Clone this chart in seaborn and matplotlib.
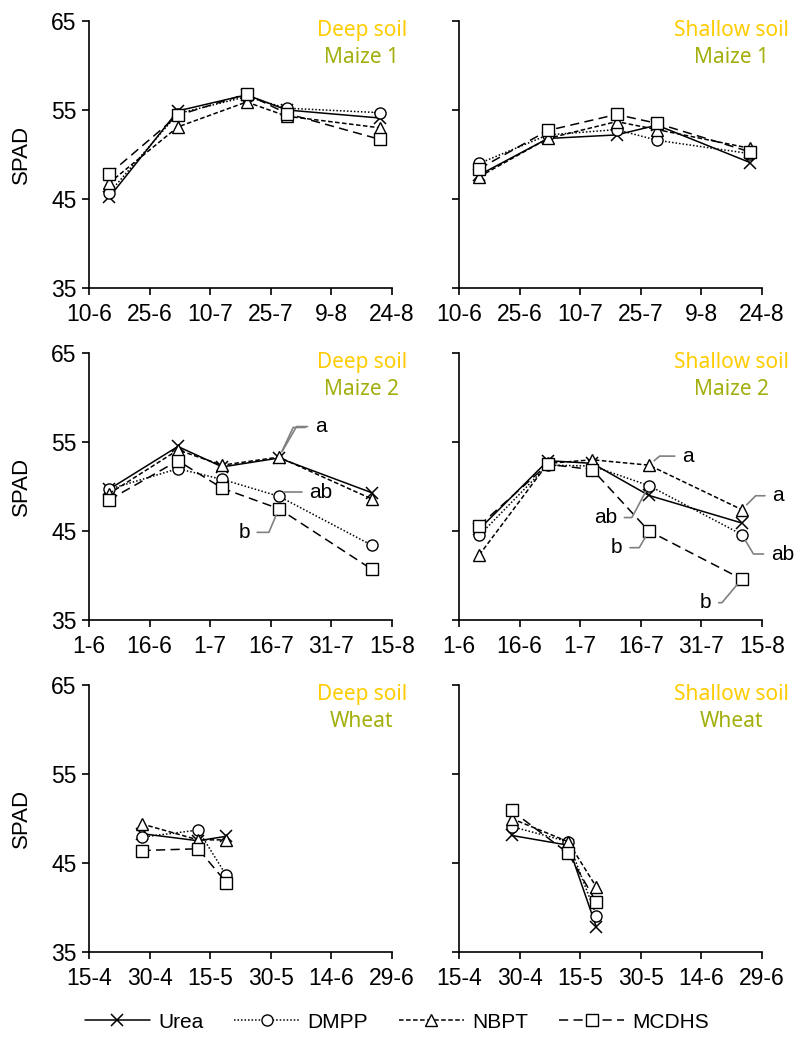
import matplotlib
matplotlib.use("Agg")
import matplotlib.pyplot as plt
import seaborn as sns
import pandas as pd
import numpy as np

sns.set_theme(style="ticks")
plt.rcParams['font.family'] = ['Liberation Sans', 'DejaVu Sans']
plt.rcParams['text.color'] = 'black'
plt.rcParams['axes.labelcolor'] = 'black'

# ---------------- data ----------------
treatments = ["Urea", "DMPP", "NBPT", "MCDHS"]

maize1_dates = ["2017-06-15", "2017-07-02", "2017-07-19", "2017-07-29", "2017-08-21"]
maize1_deep = {
    "Urea":  [45.2, 54.9, 56.7, 55.0, 54.1],
    "DMPP":  [45.7, 54.6, 56.5, 55.2, 54.7],
    "NBPT":  [46.8, 53.1, 55.9, 54.3, 53.0],
    "MCDHS": [47.8, 54.4, 56.8, 54.6, 51.7],
}
maize1_shallow = {
    "Urea":  [47.7, 51.8, 52.2, 53.3, 49.1],
    "DMPP":  [49.0, 52.2, 52.8, 51.6, 50.1],
    "NBPT":  [47.5, 51.8, 53.7, 52.8, 50.7],
    "MCDHS": [48.4, 52.7, 54.5, 53.5, 50.3],
}

maize2_dates = ["2018-06-06", "2018-06-23", "2018-07-04", "2018-07-18", "2018-08-10"]
maize2_deep = {
    "Urea":  [49.7, 54.5, 52.2, 53.2, 49.3],
    "DMPP":  [49.7, 52.0, 50.8, 48.9, 43.4],
    "NBPT":  [49.2, 54.1, 52.4, 53.3, 48.6],
    "MCDHS": [48.5, 52.9, 49.8, 47.5, 40.7],
}
maize2_shallow = {
    "Urea":  [45.2, 52.9, 52.6, 49.0, 45.9],
    "DMPP":  [44.5, 52.4, 52.3, 50.1, 44.6],
    "NBPT":  [42.3, 52.6, 53.0, 52.4, 47.4],
    "MCDHS": [45.6, 52.5, 51.9, 45.0, 39.6],
}

wheat_dates = ["2018-04-28", "2018-05-12", "2018-05-19"]
wheat_deep = {
    "Urea":  [48.3, 47.5, 48.0],
    "DMPP":  [47.9, 48.7, 43.6],
    "NBPT":  [49.4, 47.6, 47.6],
    "MCDHS": [46.4, 46.6, 42.8],
}
wheat_shallow = {
    "Urea":  [48.1, 47.0, 37.8],
    "DMPP":  [49.1, 47.4, 39.1],
    "NBPT":  [50.0, 47.4, 42.3],
    "MCDHS": [50.9, 46.1, 40.6],
}

maize1_ticks = ["2017-06-10", "2017-06-25", "2017-07-10", "2017-07-25", "2017-08-09", "2017-08-24"]
maize1_ticklabels = ["10-6", "25-6", "10-7", "25-7", "9-8", "24-8"]
maize2_ticks = ["2018-06-01", "2018-06-16", "2018-07-01", "2018-07-16", "2018-07-31", "2018-08-15"]
maize2_ticklabels = ["1-6", "16-6", "1-7", "16-7", "31-7", "15-8"]
wheat_ticks = ["2018-04-15", "2018-04-30", "2018-05-15", "2018-05-30", "2018-06-14", "2018-06-29"]
wheat_ticklabels = ["15-4", "30-4", "15-5", "30-5", "14-6", "29-6"]

y_ticks = [35, 45, 55, 65]

soil_labels = ["Deep soil", "Shallow soil"]
crop_labels = ["Maize 1", "Maize 2", "Wheat"]

# significance letters: (row, col, treatment, point index, letter)
letters = [
    (1, 0, "NBPT", 3, "a"),
    (1, 0, "Urea", 3, ""),
    (1, 0, "DMPP", 3, "ab"),
    (1, 0, "MCDHS", 3, "b"),
    (1, 1, "NBPT", 3, "a"),
    (1, 1, "NBPT", 4, "a"),
    (1, 1, "DMPP", 3, "ab"),
    (1, 1, "MCDHS", 3, "b"),
    (1, 1, "DMPP", 4, "ab"),
    (1, 1, "MCDHS", 4, "b"),
]
# placement of each letter: text offset (points) and leader angle at the point
letter_offsets = [(26, 22), (22, 22), (22, 3), (-21, -17), (24, 6.5), (22, 10),
                  (-23, -23), (-19, -12), (21, -14), (-22, -17)]
letter_angles = [60, 65, 40, 67, 40, 45, 62, 60, -59, 50]

# ---------------- styles ----------------
styles = {
    "Urea":  dict(marker="x", linestyle="-", ms=8, mew=1.1),
    "DMPP":  dict(marker="o", linestyle=(0, (1, 1.3)), ms=8, mew=1.0),
    "NBPT":  dict(marker="^", linestyle=(0, (3, 1.6)), ms=8, mew=1.0),
    "MCDHS": dict(marker="s", linestyle=(0, (6, 3.5)), ms=8, mew=1.0),
}

rows = [
    (maize1_dates, [maize1_deep, maize1_shallow], maize1_ticks, maize1_ticklabels),
    (maize2_dates, [maize2_deep, maize2_shallow], maize2_ticks, maize2_ticklabels),
    (wheat_dates, [wheat_deep, wheat_shallow], wheat_ticks, wheat_ticklabels),
]

W, H = 794, 1038
fig = plt.figure(figsize=(W / 100, H / 100), dpi=100)

col_x = [89, 459]
ax_w = 303
row_top = [21, 353, 685]
ax_h = 267

axes = {}
for r, (dates, datasets, ticks, ticklabels) in enumerate(rows):
    for c in range(2):
        ax = fig.add_axes([col_x[c] / W, 1 - (row_top[r] + ax_h) / H, ax_w / W, ax_h / H])
        axes[(r, c)] = ax
        data = datasets[c]
        x = pd.to_datetime(dates)
        for t in treatments:
            st = styles[t]
            sns.lineplot(x=x, y=data[t], ax=ax, color="black", lw=1.1,
                         marker=st["marker"], linestyle=st["linestyle"],
                         markersize=st["ms"], markeredgewidth=st["mew"],
                         markerfacecolor="white", markeredgecolor="black",
                         label=t, legend=False, zorder=3)
        tk = pd.to_datetime(ticks)
        ax.set_xlim(tk[0], tk[-1])
        ax.set_xticks(tk)
        ax.set_xticklabels(ticklabels)
        ax.set_ylim(35, 65)
        ax.set_yticks(y_ticks)
        if c == 0:
            ax.set_yticklabels([str(v) for v in y_ticks])
            ax.set_ylabel("SPAD", fontsize=16, labelpad=14, color="black")
        else:
            ax.set_yticklabels([])
            ax.set_ylabel("")
        ax.set_xlabel("")
        for s in ["top", "right"]:
            ax.spines[s].set_visible(False)
        for s in ["left", "bottom"]:
            ax.spines[s].set_linewidth(1.2)
            ax.spines[s].set_color("black")
        ax.tick_params(axis="both", direction="out", length=5, width=1.2,
                       labelsize=16.5, colors="black", pad=4)
        ax.tick_params(axis="x", pad=6)
        ax.patch.set_alpha(0)
        ax.text(0.90, 0.966, soil_labels[c], transform=ax.transAxes, ha="center", va="center",
                fontsize=15, color="#FFCC00", family=["Noto Sans", "DejaVu Sans"])
        ax.text(0.90, 0.865, crop_labels[r], transform=ax.transAxes, ha="center", va="center",
                fontsize=15, color="#A2AF0C", family=["Noto Sans", "DejaVu Sans"])

# significance letters
for (r, c, t, i, let), off, ang in zip(letters, letter_offsets, letter_angles):
    ax = axes[(r, c)]
    dates = rows[r][0]
    data = rows[r][1][c]
    xp = pd.Timestamp(dates[i])
    yp = data[t][i]
    ha = "left" if off[0] > 0 else "right"
    ax.annotate(let, xy=(xp, yp), xytext=off, textcoords="offset points",
                ha=ha, va="center", fontsize=15, color="black",
                arrowprops=dict(arrowstyle="-", color="#808080", lw=1.2,
                                connectionstyle=f"angle,angleA=0,angleB={ang},rad=0",
                                shrinkA=3, shrinkB=5), zorder=5)

handles, labels = axes[(0, 0)].get_legend_handles_labels()
leg = fig.legend(handles, labels, loc="center", bbox_to_anchor=(0.5, 1 - 1022 / H), ncol=4,
                 frameon=False, handlelength=3.1, handletextpad=0.4, columnspacing=1.5,
                 prop={"family": ["Liberation Sans Narrow", "Liberation Sans"], "size": 15})
for txt in leg.get_texts():
    txt.set_color("black")

fig.savefig("out.png", dpi=100)
